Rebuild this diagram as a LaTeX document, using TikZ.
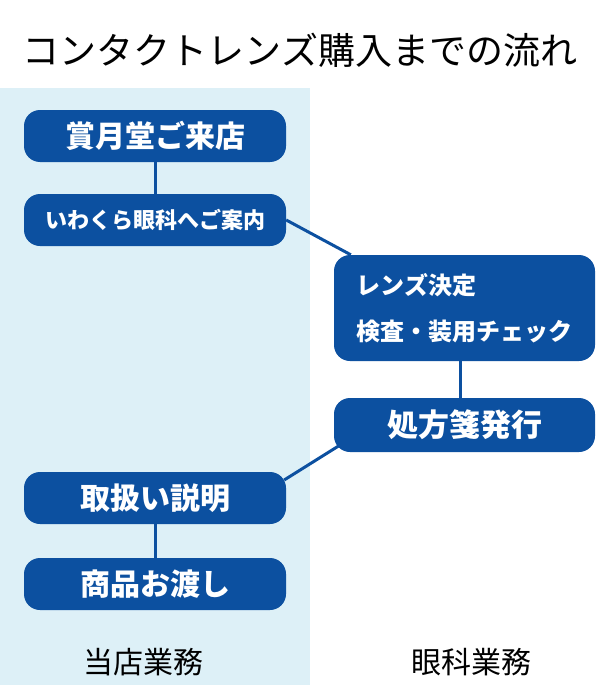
\documentclass[tikz,border=0pt]{standalone}
\usepackage{fontspec}
\setmainfont{Noto Sans CJK JP}
\usetikzlibrary{positioning, calc}
\definecolor{flowblue}{RGB}{12,80,160}
\definecolor{panelblue}{RGB}{221,240,247}
\tikzset{
  stp/.style   = {fill=flowblue, rounded corners=16pt, text=white, inner sep=0pt,
                  minimum width=262pt, minimum height=52pt},
  big/.style   = {font=\fontsize{30}{34}\selectfont\bfseries},
  small/.style = {font=\fontsize{22}{26}\selectfont\bfseries},
  lnk/.style   = {draw=flowblue, line width=3pt},
  lane/.style  = {font=\fontsize{30}{34}\selectfont, inner sep=0pt},
}

\begin{document}
\begin{tikzpicture}[x=1pt, y=-1pt]
  \useasboundingbox (0,0) rectangle (595,685);
  \fill[panelblue] (0,88) rectangle (310,685);
  \node[font=\fontsize{37}{42}\selectfont] (title) at (300,50) {コンタクトレンズ購入までの流れ};

  % shop side
  \node[stp, big]   (visit) at (155,136) {賞月堂ご来店};
  \node[stp, small] (guide) at (155,220) {いわくら眼科へご案内};
  \node[stp, big]   (usage) at (155,498) {取扱い説明};
  \node[stp, big]   (hand)  at (155,584) {商品お渡し};

  % clinic side
  \node[stp, font=\fontsize{24}{46}\selectfont\bfseries, align=left,
        minimum width=261pt, minimum height=106pt] (exam) at (464.5,308)
        {レンズ決定\\検査・装用チェック};
  \node[stp, font=\fontsize{31}{34}\selectfont\bfseries,
        minimum width=261pt, minimum height=54pt] (rx) at (464.5,425) {処方箋発行};

  \node[lane] (shopjob)   at (143,662) {当店業務};
  \node[lane] (clinicjob) at (471,662) {眼科業務};

  \draw[lnk] (visit) -- (guide);
  \draw[lnk] (guide.east) -- ($(exam.north west)+(17,0)$);
  \draw[lnk] (exam.south -| 460,0) -- (rx.north -| 460,0);
  \draw[lnk] ($(rx.south west)+(6,-7)$) -- ($(usage.east)+(-2,-18)$);
  \draw[lnk] (usage) -- (hand);
\end{tikzpicture}
\end{document}
